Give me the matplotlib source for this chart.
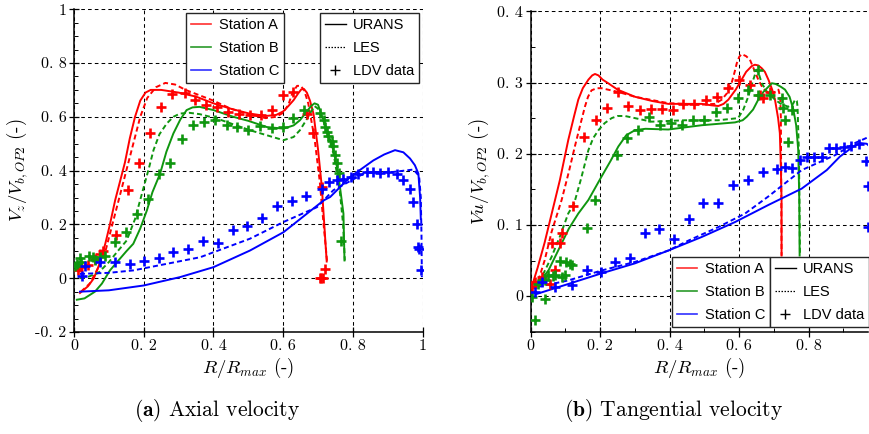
"""Axial and tangential velocity profiles: URANS / LES / LDV at three stations."""

import matplotlib
matplotlib.use("Agg")
import matplotlib.pyplot as plt
from matplotlib.lines import Line2D
from matplotlib.ticker import FixedLocator, FuncFormatter, MultipleLocator

plt.rcParams["font.family"] = "cmr10"
plt.rcParams["mathtext.fontset"] = "cm"
plt.rcParams["axes.formatter.use_mathtext"] = True

RED, GREEN, BLUE = "#ff0000", "#0f960f", "#0000ff"

# ---- (a) axial velocity Vz/Vb ---------------------------------------------
ax_a_urans_x = [0.017, 0.04, 0.057, 0.075, 0.09, 0.103, 0.118, 0.132, 0.146, 0.16, 0.175,
                0.19, 0.205, 0.22, 0.25, 0.3, 0.35, 0.4, 0.45, 0.5, 0.55, 0.58, 0.6, 0.615,
                0.63, 0.642, 0.652, 0.66, 0.668, 0.677, 0.687, 0.70, 0.711, 0.718, 0.722,
                0.725]
ax_a_urans_y = [-0.055, -0.03, 0.0, 0.06, 0.13, 0.2, 0.29, 0.36, 0.43, 0.52, 0.6, 0.66,
                0.69, 0.70, 0.70, 0.69, 0.675, 0.65, 0.63, 0.613, 0.603, 0.607, 0.62, 0.64,
                0.662, 0.685, 0.702, 0.703, 0.69, 0.66, 0.612, 0.48, 0.339, 0.2, 0.12, 0.062]
ax_a_les_x = [0.02, 0.045, 0.07, 0.09, 0.11, 0.13, 0.15, 0.17, 0.19, 0.21, 0.235, 0.262,
              0.29, 0.32, 0.36, 0.4, 0.45, 0.5, 0.55, 0.58, 0.6, 0.615, 0.627, 0.64, 0.65,
              0.66, 0.672, 0.69, 0.705, 0.716, 0.722, 0.726]
ax_a_les_y = [-0.05, -0.02, 0.04, 0.1, 0.2, 0.3, 0.4, 0.5, 0.6, 0.67, 0.71, 0.726, 0.72,
              0.7, 0.68, 0.66, 0.63, 0.61, 0.595, 0.6, 0.615, 0.645, 0.69, 0.715, 0.715,
              0.7, 0.65, 0.52, 0.36, 0.2, 0.12, 0.062]
ax_a_ldv_x = [0.01, 0.02, 0.04, 0.06, 0.075, 0.084, 0.121, 0.154, 0.187, 0.218, 0.25, 0.282,
              0.317, 0.347, 0.378, 0.409, 0.441, 0.474, 0.505, 0.537, 0.569, 0.599, 0.627,
              0.668, 0.687, 0.711, 0.72, 0.705, 0.71, 0.715]
ax_a_ldv_y = [0.03, 0.04, 0.05, 0.07, 0.09, 0.103, 0.159, 0.327, 0.43, 0.538, 0.635, 0.683,
              0.689, 0.664, 0.643, 0.635, 0.616, 0.612, 0.606, 0.606, 0.625, 0.68, 0.693,
              0.612, 0.538, 0.339, 0.035, 0.0, 0.0, 0.0]

ax_b_urans_x = [0.008, 0.03, 0.06, 0.08, 0.103, 0.13, 0.15, 0.17, 0.19, 0.209, 0.225,
                0.247, 0.265, 0.285, 0.305, 0.323, 0.34, 0.36, 0.4, 0.457, 0.5, 0.553,
                0.601, 0.63, 0.648, 0.665, 0.68, 0.69, 0.70, 0.716, 0.73, 0.744, 0.755,
                0.763, 0.773, 0.776]
ax_b_urans_y = [-0.08, -0.075, -0.05, -0.02, 0.029, 0.07, 0.1, 0.128, 0.185, 0.252, 0.32,
                0.389, 0.47, 0.538, 0.59, 0.625, 0.635, 0.637, 0.625, 0.6, 0.585, 0.562,
                0.556, 0.568, 0.587, 0.615, 0.64, 0.65, 0.645, 0.587, 0.535, 0.476, 0.41,
                0.339, 0.24, 0.066]
ax_b_les_x = [0.017, 0.04, 0.07, 0.1, 0.125, 0.151, 0.175, 0.2, 0.215, 0.228, 0.245, 0.266,
              0.285, 0.304, 0.33, 0.36, 0.409, 0.505, 0.601, 0.63, 0.648, 0.665, 0.677,
              0.69, 0.70, 0.72, 0.745, 0.762, 0.772, 0.777]
ax_b_les_y = [0.0, 0.005, 0.02, 0.06, 0.1, 0.14, 0.22, 0.339, 0.41, 0.476, 0.535, 0.575,
              0.6, 0.612, 0.615, 0.61, 0.594, 0.55, 0.513, 0.525, 0.55, 0.585, 0.612, 0.64,
              0.63, 0.57, 0.46, 0.33, 0.2, 0.066]
ax_b_ldv_x = [0.003, 0.008, 0.017, 0.02, 0.044, 0.055, 0.06, 0.075, 0.088, 0.118, 0.15,
              0.18, 0.213, 0.245, 0.276, 0.309, 0.34, 0.373, 0.405, 0.438, 0.467, 0.5,
              0.534, 0.567, 0.599, 0.629, 0.66, 0.706, 0.716, 0.72, 0.725, 0.73, 0.739,
              0.744, 0.75, 0.755, 0.76, 0.766]
ax_b_ldv_y = [0.047, 0.054, 0.076, 0.06, 0.084, 0.078, 0.066, 0.078, 0.084, 0.134, 0.171,
              0.24, 0.296, 0.386, 0.43, 0.519, 0.569, 0.581, 0.587, 0.569, 0.562, 0.55,
              0.565, 0.56, 0.562, 0.594, 0.627, 0.613, 0.587, 0.563, 0.545, 0.53, 0.51,
              0.49, 0.457, 0.43, 0.39, 0.14]

ax_c_urans_x = [0.017, 0.1, 0.2, 0.304, 0.4, 0.505, 0.601, 0.716, 0.735, 0.792, 0.859,
                0.89, 0.921, 0.945, 0.964, 0.978, 0.988, 0.993, 0.995]
ax_c_urans_y = [-0.05, -0.045, -0.027, 0.004, 0.041, 0.103, 0.171, 0.289, 0.302, 0.376,
                0.438, 0.46, 0.476, 0.468, 0.445, 0.42, 0.389, 0.3, 0.22]
ax_c_les_x = [0.017, 0.1, 0.17, 0.362, 0.505, 0.601, 0.697, 0.744, 0.84, 0.916, 0.974,
              0.99, 0.995, 0.997, 0.998]
ax_c_les_y = [0.016, 0.02, 0.029, 0.078, 0.147, 0.209, 0.264, 0.327, 0.395, 0.395, 0.404,
              0.38, 0.3, 0.15, 0.004]
ax_c_ldv_x = [0.022, 0.031, 0.075, 0.118, 0.161, 0.202, 0.244, 0.285, 0.328, 0.371, 0.414,
              0.457, 0.497, 0.54, 0.582, 0.625, 0.666, 0.711, 0.731, 0.754, 0.773, 0.795,
              0.816, 0.84, 0.859, 0.878, 0.902, 0.926, 0.945, 0.964, 0.974, 0.983, 0.988,
              0.991, 0.995]
ax_c_ldv_y = [0.01, 0.044, 0.06, 0.06, 0.051, 0.063, 0.076, 0.097, 0.107, 0.138, 0.132,
              0.181, 0.195, 0.224, 0.268, 0.286, 0.305, 0.333, 0.358, 0.364, 0.37, 0.376,
              0.389, 0.395, 0.395, 0.39, 0.395, 0.389, 0.364, 0.333, 0.283, 0.203, 0.116,
              0.11, 0.031]

# ---- (b) tangential velocity Vu/Vb ----------------------------------------
tg_a_urans_x = [0.003, 0.02, 0.04, 0.07, 0.084, 0.108, 0.125, 0.137, 0.15, 0.166, 0.177,
                0.185, 0.195, 0.207, 0.223, 0.25, 0.3, 0.35, 0.396, 0.45, 0.492, 0.52,
                0.54, 0.555, 0.569, 0.59, 0.607, 0.62, 0.636, 0.645, 0.655, 0.665, 0.674,
                0.685, 0.695, 0.703, 0.712, 0.717, 0.72, 0.722, 0.722]
tg_a_urans_y = [0.013, 0.04, 0.075, 0.135, 0.163, 0.219, 0.253, 0.276, 0.292, 0.304, 0.31,
                0.312, 0.31, 0.304, 0.299, 0.29, 0.28, 0.274, 0.27, 0.27, 0.27, 0.268,
                0.267, 0.27, 0.276, 0.29, 0.304, 0.315, 0.323, 0.325, 0.324, 0.32, 0.315,
                0.303, 0.29, 0.276, 0.25, 0.229, 0.18, 0.135, 0.057]
tg_a_les_x = [0.022, 0.04, 0.06, 0.089, 0.11, 0.127, 0.145, 0.156, 0.165, 0.175, 0.19,
              0.204, 0.25, 0.3, 0.396, 0.492, 0.53, 0.55, 0.565, 0.578, 0.587, 0.593, 0.6,
              0.607, 0.62, 0.631, 0.643, 0.655, 0.668, 0.684, 0.70, 0.713, 0.718, 0.72,
              0.722]
tg_a_les_y = [0.022, 0.05, 0.09, 0.135, 0.175, 0.21, 0.245, 0.266, 0.28, 0.289, 0.292,
              0.292, 0.287, 0.28, 0.271, 0.269, 0.27, 0.276, 0.285, 0.299, 0.315, 0.327,
              0.336, 0.34, 0.337, 0.332, 0.318, 0.304, 0.292, 0.285, 0.286, 0.29, 0.28,
              0.25, 0.057]
tg_a_ldv_x = [0.003, 0.012, 0.032, 0.056, 0.07, 0.06, 0.084, 0.091, 0.123, 0.154, 0.187,
              0.219, 0.252, 0.281, 0.315, 0.346, 0.377, 0.409, 0.439, 0.471, 0.504, 0.535,
              0.567, 0.599, 0.631, 0.66, 0.67, 0.69]
tg_a_ldv_y = [0.013, 0.02, 0.027, 0.017, 0.036, 0.074, 0.074, 0.088, 0.126, 0.224, 0.247,
              0.264, 0.287, 0.267, 0.262, 0.263, 0.263, 0.262, 0.27, 0.27, 0.276, 0.28,
              0.293, 0.304, 0.297, 0.283, 0.278, 0.287]

tg_b_urans_x = [0.012, 0.03, 0.051, 0.07, 0.089, 0.11, 0.137, 0.166, 0.204, 0.23, 0.252,
                0.275, 0.3, 0.33, 0.396, 0.492, 0.588, 0.61, 0.622, 0.64, 0.655, 0.67,
                0.684, 0.694, 0.705, 0.72, 0.732, 0.745, 0.756, 0.764, 0.77, 0.773, 0.774]
tg_b_urans_y = [0.013, 0.023, 0.036, 0.055, 0.074, 0.095, 0.116, 0.135, 0.168, 0.19, 0.21,
                0.226, 0.233, 0.235, 0.234, 0.24, 0.244, 0.247, 0.252, 0.262, 0.276, 0.287,
                0.294, 0.299, 0.298, 0.294, 0.29, 0.28, 0.262, 0.24, 0.205, 0.135, 0.057]
tg_b_les_x = [0.012, 0.035, 0.06, 0.085, 0.108, 0.125, 0.145, 0.166, 0.18, 0.195, 0.213,
              0.233, 0.25, 0.271, 0.3, 0.348, 0.444, 0.54, 0.597, 0.612, 0.626, 0.638,
              0.65, 0.658, 0.665, 0.68, 0.703, 0.72, 0.741, 0.755, 0.761, 0.766, 0.768,
              0.772, 0.775]
tg_b_les_y = [0.01, 0.03, 0.055, 0.085, 0.116, 0.13, 0.165, 0.205, 0.222, 0.233, 0.243,
              0.25, 0.253, 0.253, 0.25, 0.245, 0.247, 0.247, 0.25, 0.262, 0.28, 0.3, 0.318,
              0.31, 0.299, 0.287, 0.276, 0.27, 0.266, 0.27, 0.276, 0.274, 0.266, 0.2, 0.057]
tg_b_ldv_x = [0.003, 0.012, 0.022, 0.041, 0.041, 0.051, 0.065, 0.07, 0.084, 0.089, 0.099,
              0.103, 0.113, 0.118, 0.161, 0.185, 0.247, 0.276, 0.31, 0.341, 0.373, 0.405,
              0.436, 0.468, 0.5, 0.532, 0.564, 0.596, 0.626, 0.655, 0.655, 0.689, 0.722,
              0.727, 0.732, 0.741, 0.751]
tg_b_ldv_y = [-0.001, -0.033, 0.017, 0.022, -0.004, 0.029, 0.028, 0.029, 0.049, 0.027, 0.029,
              0.048, 0.045, 0.043, 0.096, 0.135, 0.198, 0.222, 0.233, 0.252, 0.241, 0.243,
              0.241, 0.247, 0.248, 0.258, 0.264, 0.278, 0.289, 0.318, 0.283, 0.283, 0.278,
              0.264, 0.247, 0.217, 0.262]

tg_c_urans_x = [0.017, 0.108, 0.204, 0.3, 0.396, 0.492, 0.588, 0.684, 0.78, 0.852, 0.89,
                0.928, 0.948, 0.967, 0.976]
tg_c_urans_y = [0.003, 0.017, 0.032, 0.046, 0.064, 0.083, 0.104, 0.128, 0.151, 0.177,
                0.196, 0.21, 0.215, 0.214, 0.21]
tg_c_les_x = [0.022, 0.108, 0.204, 0.3, 0.396, 0.454, 0.54, 0.617, 0.684, 0.78, 0.876,
              0.933, 0.975]
tg_c_les_y = [0.013, 0.022, 0.036, 0.048, 0.064, 0.078, 0.097, 0.116, 0.14, 0.177, 0.198,
              0.215, 0.224]
tg_c_ldv_x = [0.012, 0.032, 0.07, 0.118, 0.161, 0.201, 0.243, 0.286, 0.329, 0.37, 0.413,
              0.456, 0.497, 0.54, 0.583, 0.624, 0.668, 0.708, 0.732, 0.751, 0.775, 0.794,
              0.816, 0.837, 0.859, 0.88, 0.902, 0.923, 0.944, 0.964, 0.97, 0.971]
tg_c_ldv_y = [0.006, 0.02, 0.013, 0.016, 0.036, 0.034, 0.048, 0.053, 0.089, 0.094, 0.08,
              0.108, 0.131, 0.131, 0.156, 0.163, 0.174, 0.178, 0.182, 0.18, 0.191, 0.195,
              0.195, 0.196, 0.208, 0.208, 0.209, 0.211, 0.213, 0.19, 0.154, 0.097]

station_labels = ["Station A", "Station B", "Station C"]
source_labels = ["URANS", "LES", "LDV data"]

LES_DASH = (0, (2.6, 1.6))
SANS = {"family": "Liberation Sans", "size": 10.5}


def tick_fmt(v, _pos):
    if abs(v) < 1e-9:
        return "0"
    if abs(v - round(v)) < 1e-9:
        return f"{int(round(v))}"
    return f"{v:.1f}".replace(".", ". ")


def draw_station(ax, color, ux, uy, lx, ly, dx, dy):
    ax.plot(ux, uy, color=color, lw=1.4, zorder=3, solid_joinstyle="round")
    ax.plot(lx, ly, color=color, lw=1.4, linestyle=LES_DASH, zorder=3)
    ax.plot(dx, dy, linestyle="none", marker="+", color=color, ms=7.5, mew=1.9, zorder=4)


def add_legends(ax, x1, x2, y_top):
    st = [Line2D([], [], color=c, lw=1.2) for c in ("#ff3030", "#2a9a2a", "#3030ff")]
    src = [Line2D([], [], color="k", lw=1.0),
           Line2D([], [], color="k", lw=0.9, linestyle=(0, (1.2, 1.2))),
           Line2D([], [], color="k", linestyle="none", marker="+", ms=7, mew=1.0)]
    kw = dict(loc="upper left", prop=SANS, fancybox=False, framealpha=1,
              edgecolor="0.15", handlelength=1.4, handletextpad=0.5,
              labelspacing=0.62, borderpad=0.35, borderaxespad=0)
    leg1 = ax.legend(st, station_labels, bbox_to_anchor=(x1, y_top), **kw)
    leg1.get_frame().set_linewidth(1.0)
    ax.add_artist(leg1)
    leg2 = ax.legend(src, source_labels, bbox_to_anchor=(x2, y_top), **kw)
    leg2.get_frame().set_linewidth(1.0)


def style_axes(ax):
    ax.grid(True, which="major", color="k", linestyle=(0, (3.5, 3)), lw=0.75)
    ax.set_axisbelow(False)
    for side in ("top", "right"):
        ax.spines[side].set_visible(False)
    for side in ("left", "bottom"):
        ax.spines[side].set_linewidth(1.1)
    ax.tick_params(which="major", direction="inout", length=7, width=0.9,
                   labelsize=11.5, pad=2)
    ax.tick_params(which="minor", direction="in", length=3, width=0.7)
    ax.xaxis.set_major_formatter(FuncFormatter(tick_fmt))
    ax.yaxis.set_major_formatter(FuncFormatter(tick_fmt))


fig = plt.figure(figsize=(8.7, 4.34), dpi=100)
ax1 = fig.add_axes([0.0851, 0.235, 0.4006, 0.7438])
ax2 = fig.add_axes([0.61, 0.2357, 0.3874, 0.7382])

# axial
draw_station(ax1, RED, ax_a_urans_x, ax_a_urans_y, ax_a_les_x, ax_a_les_y, ax_a_ldv_x, ax_a_ldv_y)
draw_station(ax1, GREEN, ax_b_urans_x, ax_b_urans_y, ax_b_les_x, ax_b_les_y, ax_b_ldv_x, ax_b_ldv_y)
draw_station(ax1, BLUE, ax_c_urans_x, ax_c_urans_y, ax_c_les_x, ax_c_les_y, ax_c_ldv_x, ax_c_ldv_y)
ax1.set_xlim(0, 1)
ax1.set_ylim(-0.2, 1)
ax1.xaxis.set_major_locator(FixedLocator([0, 0.2, 0.4, 0.6, 0.8, 1.0]))
ax1.yaxis.set_major_locator(FixedLocator([-0.2, 0, 0.2, 0.4, 0.6, 0.8, 1.0]))
ax1.yaxis.set_minor_locator(MultipleLocator(0.05))
style_axes(ax1)
ax1.set_xlabel(r"$R/R_{max}$ (-)", fontsize=13.5, labelpad=2)
ax1.set_ylabel(r"$V_z/V_{b,OP2}$ (-)", fontsize=13.5, labelpad=4)
add_legends(ax1, 0.321, 0.706, 0.988)

# tangential
draw_station(ax2, RED, tg_a_urans_x, tg_a_urans_y, tg_a_les_x, tg_a_les_y, tg_a_ldv_x, tg_a_ldv_y)
draw_station(ax2, GREEN, tg_b_urans_x, tg_b_urans_y, tg_b_les_x, tg_b_les_y, tg_b_ldv_x, tg_b_ldv_y)
draw_station(ax2, BLUE, tg_c_urans_x, tg_c_urans_y, tg_c_les_x, tg_c_les_y, tg_c_ldv_x, tg_c_ldv_y)
ax2.set_xlim(0, 0.97)
ax2.set_ylim(-0.05, 0.4)
ax2.xaxis.set_major_locator(FixedLocator([0, 0.2, 0.4, 0.6, 0.8]))
ax2.xaxis.set_minor_locator(MultipleLocator(0.1))
ax2.yaxis.set_major_locator(FixedLocator([0, 0.1, 0.2, 0.3, 0.4]))
ax2.yaxis.set_minor_locator(MultipleLocator(0.05))
style_axes(ax2)
ax2.set_xlabel(r"$R/R_{max}$ (-)", fontsize=13.5, labelpad=2)
ax2.set_ylabel(r"$Vu/V_{b,OP2}$ (-)", fontsize=13.5, labelpad=4)
add_legends(ax2, 0.419, 0.71, 0.233)

fig.text(0.25, 0.055, r"$\mathbf{(a)}$ Axial velocity", ha="center", va="center", fontsize=15.5)
fig.text(0.774, 0.055, r"$\mathbf{(b)}$ Tangential velocity", ha="center", va="center", fontsize=15.5)

fig.savefig("out.png", dpi=100)
